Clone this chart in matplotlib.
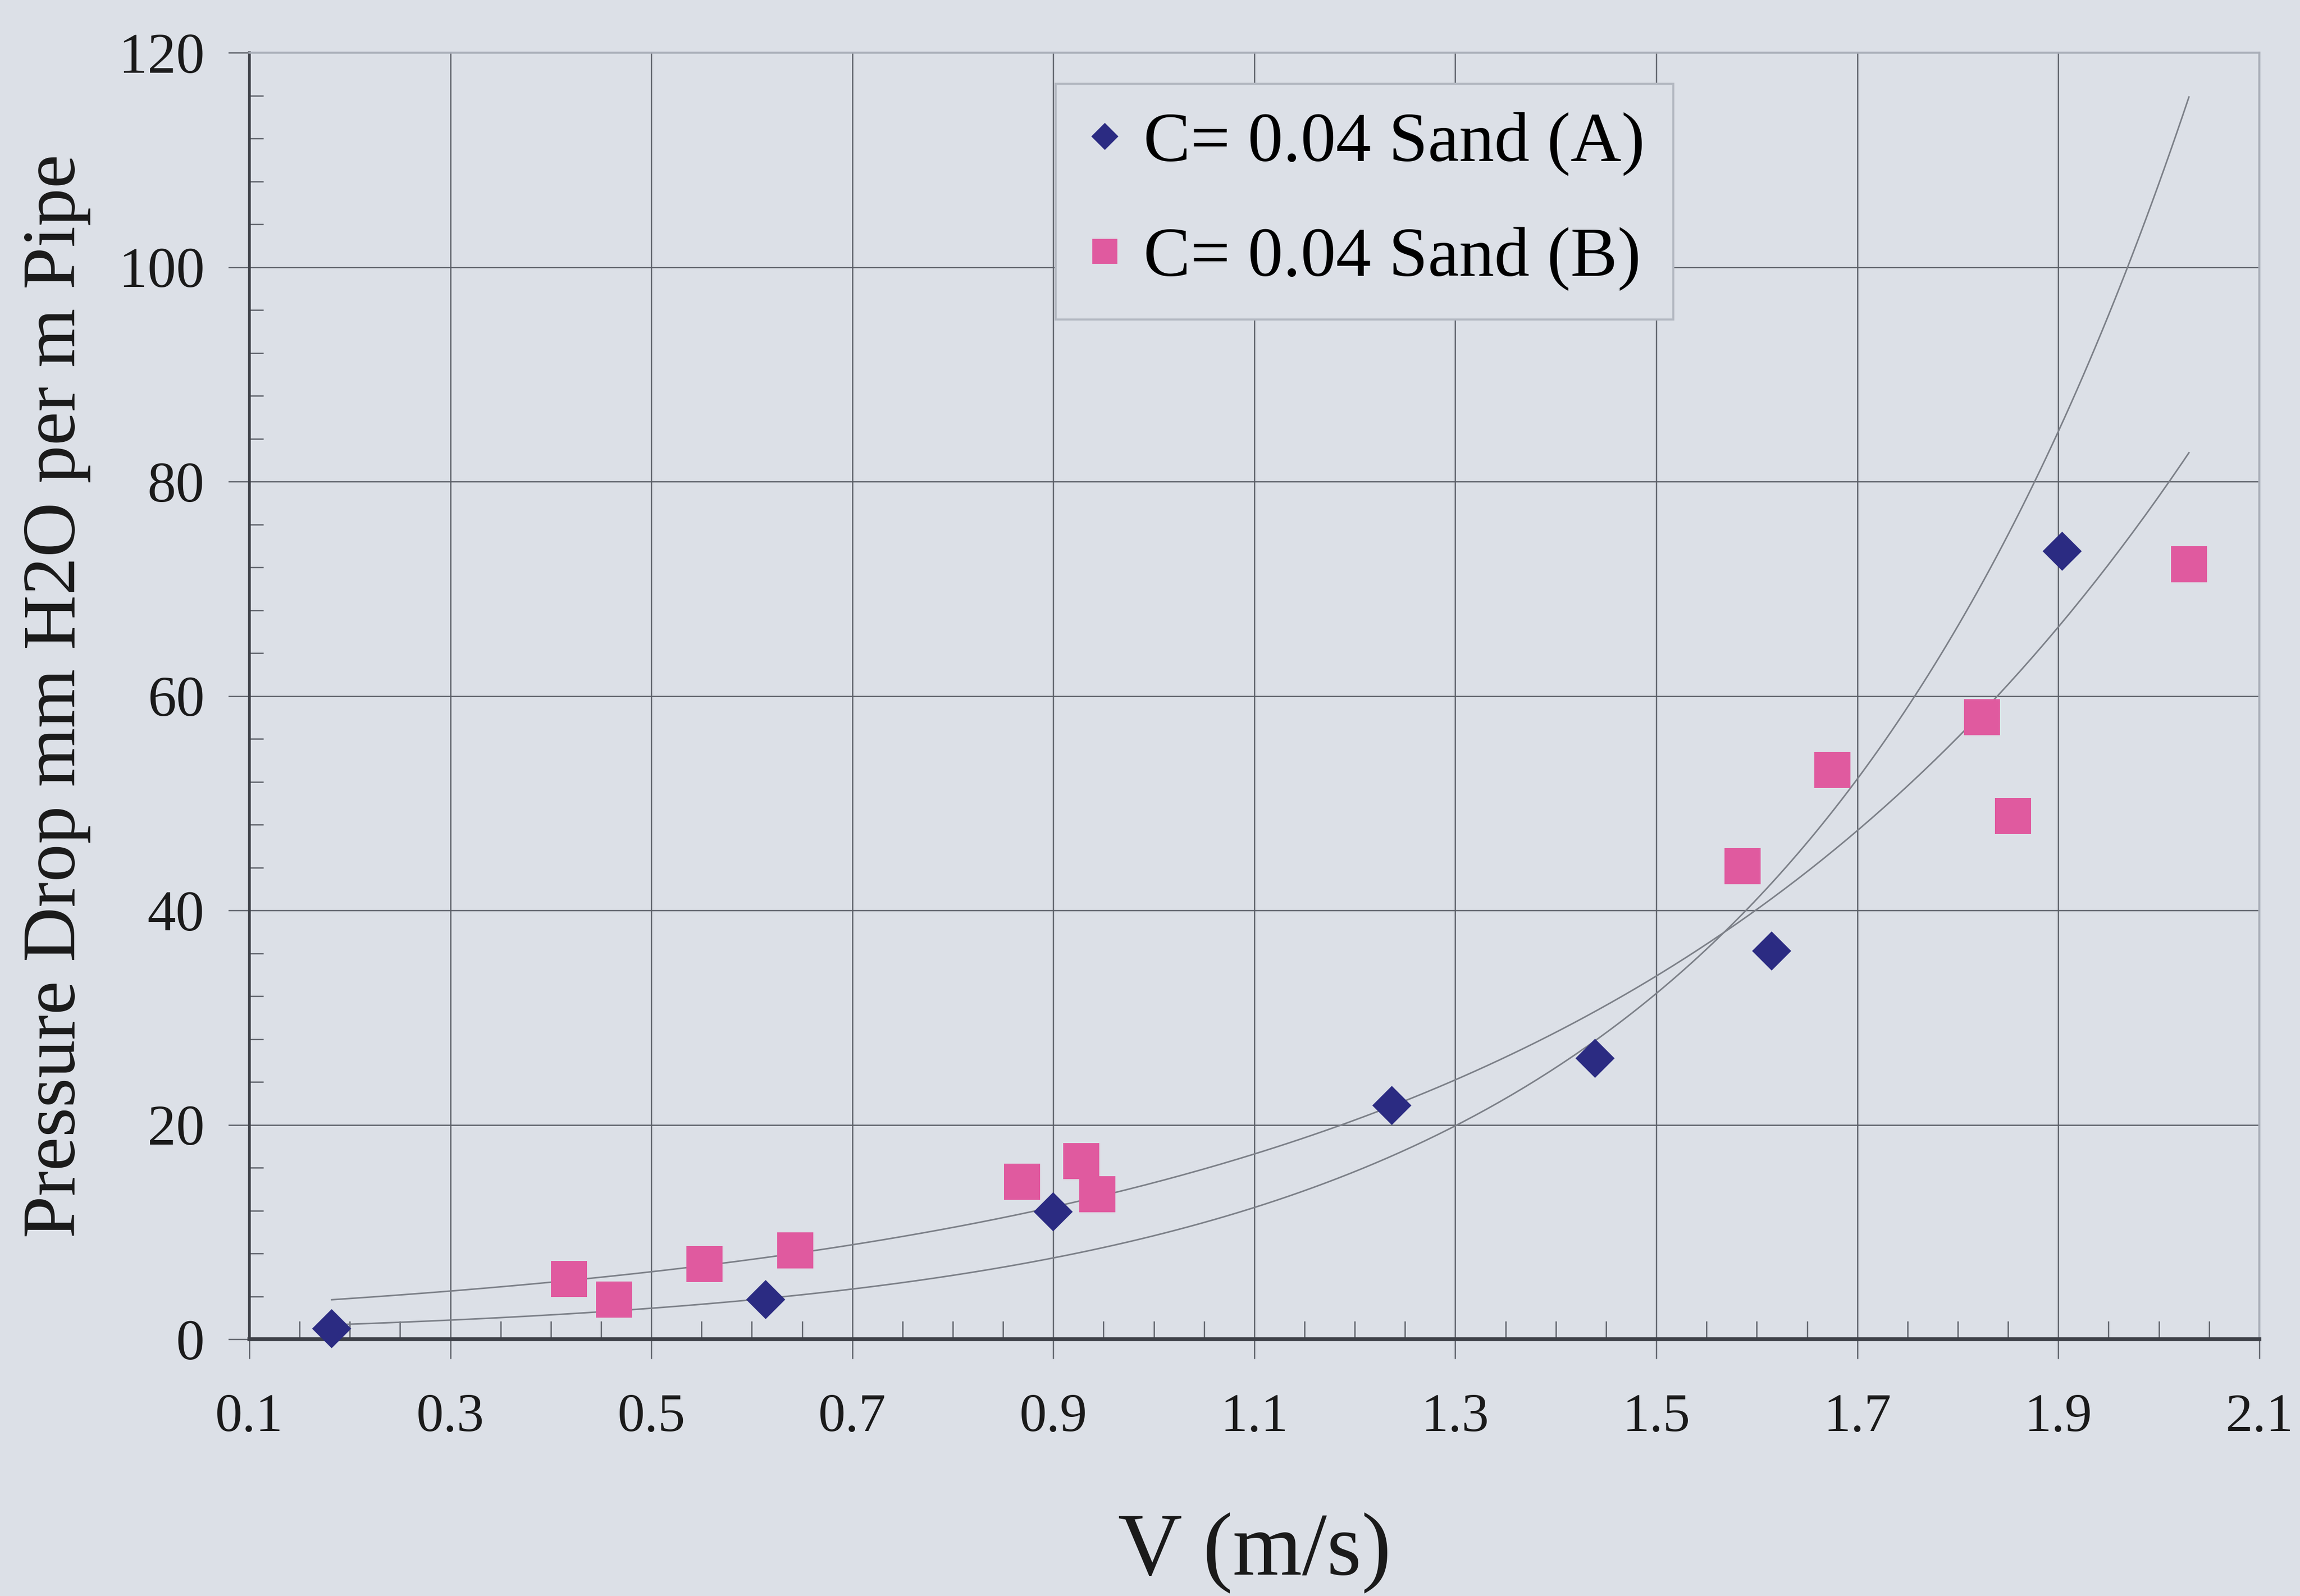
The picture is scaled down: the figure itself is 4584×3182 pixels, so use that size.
import numpy as np
import matplotlib
matplotlib.use("Agg")
import matplotlib.pyplot as plt
from matplotlib.ticker import MultipleLocator, FixedLocator

# ---- data ----
va = [0.182, 0.614, 0.900, 1.237, 1.439, 1.615, 1.904]
pa = [1.0, 3.7, 11.9, 21.8, 26.2, 36.2, 73.5]
vb = [0.418, 0.463, 0.553, 0.643, 0.869, 0.928, 0.944, 1.586, 1.675, 1.824, 1.855, 2.030]
pb = [5.6, 3.7, 7.0, 8.3, 14.7, 16.6, 13.5, 44.1, 53.1, 58.0, 48.8, 72.3]
label_a = "C= 0.04 Sand (A)"
label_b = "C= 0.04 Sand (B)"
xticks = [0.1, 0.3, 0.5, 0.7, 0.9, 1.1, 1.3, 1.5, 1.7, 1.9, 2.1]
yticks = [0, 20, 40, 60, 80, 100, 120]

BG = "#DCE0E7"
NAVY = "#2B2B82"
PINK = "#E05A9F"
FONT = ["Liberation Serif", "DejaVu Serif"]

plt.rcParams["font.family"] = FONT

fig = plt.figure(figsize=(45.84, 31.82), dpi=100, facecolor=BG)
ax = fig.add_axes([0.1084, 0.1609, 0.9823 - 0.1084, 0.967 - 0.1609])
ax.set_facecolor(BG)

ax.set_xlim(0.1, 2.1)
ax.set_ylim(0, 120)

# grid
ax.xaxis.set_major_locator(FixedLocator(xticks))
ax.yaxis.set_major_locator(FixedLocator(yticks))
ax.xaxis.set_minor_locator(MultipleLocator(0.05))
ax.yaxis.set_minor_locator(MultipleLocator(4))
ax.grid(True, which="major", color="#5A5E66", linewidth=1.8, zorder=1)
ax.set_axisbelow(True)

# spines
for s in ["top", "right"]:
    ax.spines[s].set_color("#A9AEB8")
    ax.spines[s].set_linewidth(3.0)
ax.spines["left"].set_color("#3E4148")
ax.spines["left"].set_linewidth(4.0)
ax.spines["bottom"].set_color("#3E4148")
ax.spines["bottom"].set_linewidth(5.5)

ax.tick_params(axis="x", which="major", direction="out", length=28, width=1.8,
               color="#5A5E66", pad=50, labelsize=78, labelcolor="#1A1A1A")
ax.tick_params(axis="x", which="minor", direction="in", length=26, width=1.8,
               color="#5A5E66")
ax.tick_params(axis="y", which="major", direction="out", length=30, width=1.8,
               color="#5A5E66", pad=34, labelsize=82, labelcolor="#1A1A1A")
ax.tick_params(axis="y", which="minor", direction="in", length=20, width=1.8,
               color="#5A5E66")
ax.set_xticklabels([f"{t:.1f}" for t in xticks])
ax.set_yticklabels([str(t) for t in yticks])

# exponential trend lines (fitted from the data)
xmin = min(min(va), min(vb))
xmax = max(max(va), max(vb))
xs = np.linspace(xmin, xmax, 300)
for v, p in [(va, pa), (vb, pb)]:
    b, lna = np.polyfit(np.array(v), np.log(np.array(p)), 1)
    ax.plot(xs, np.exp(lna) * np.exp(b * xs), color="#7C8088", linewidth=2.2,
            zorder=2, clip_on=False)

ax.plot(va, pa, linestyle="none", marker="D", markersize=40, color=NAVY,
        markeredgewidth=0, label=label_a, zorder=4, clip_on=False)
ax.plot(vb, pb, linestyle="none", marker="s", markersize=52, color=PINK,
        markeredgewidth=0, label=label_b, zorder=3, clip_on=False)

ax.set_xlabel("V (m/s)", fontsize=128, color="#1A1A1A", labelpad=100)
ax.set_ylabel("Pressure Drop mm H2O per m Pipe", fontsize=109, color="#1A1A1A",
              labelpad=40)

leg = ax.legend(loc="upper left", bbox_to_anchor=(0.459, 0.9475),
                bbox_transform=fig.transFigure, fontsize=101, frameon=True,
                fancybox=False, facecolor=BG, edgecolor="#B4B9C2",
                handlelength=0.6, handletextpad=0.25, borderpad=0.4,
                labelspacing=0.72, markerscale=0.7, borderaxespad=0)
leg.get_frame().set_linewidth(3)
leg.get_frame().set_alpha(1)
leg.set_zorder(10)

fig.savefig("out.png", dpi=100, facecolor=BG)
